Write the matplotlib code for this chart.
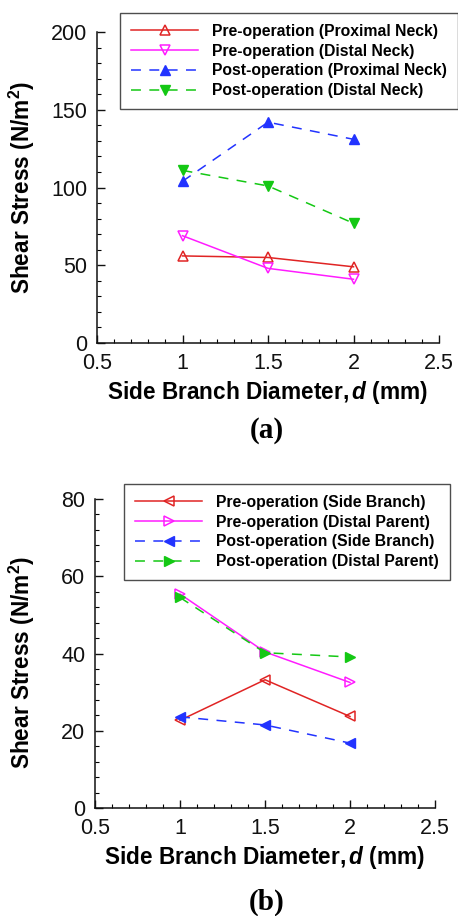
"""Wall shear stress vs side branch diameter, pre/post operation (two panels)."""

import matplotlib

matplotlib.use("Agg")

import matplotlib.pyplot as plt
from matplotlib.ticker import MultipleLocator

plt.rcParams["font.family"] = ["Liberation Sans", "DejaVu Sans"]
plt.rcParams["mathtext.fontset"] = "custom"
plt.rcParams["mathtext.it"] = "Liberation Sans:italic:bold"
plt.rcParams["mathtext.rm"] = "Liberation Sans:bold"
plt.rcParams["mathtext.bf"] = "Liberation Sans:bold"

diameter = [1.0, 1.5, 2.0]

# panel (a): aneurysm neck
pre_proximal_neck = [56, 55, 49]
pre_distal_neck = [69, 48, 41]
post_proximal_neck = [104, 142, 131]
post_distal_neck = [111, 101, 77]
labels_a = [
    "Pre-operation (Proximal Neck)",
    "Pre-operation (Distal Neck)",
    "Post-operation (Proximal Neck)",
    "Post-operation (Distal Neck)",
]

# panel (b): side branch / distal parent
pre_side_branch = [22.7, 33.2, 23.7]
pre_distal_parent = [55.4, 40.4, 32.5]
post_side_branch = [23.6, 21.5, 16.8]
post_distal_parent = [54.5, 40.2, 39.1]
labels_b = [
    "Pre-operation (Side Branch)",
    "Pre-operation (Distal Parent)",
    "Post-operation (Side Branch)",
    "Post-operation (Distal Parent)",
]

RED = "#e02424"
MAGENTA = "#ff1cff"
BLUE = "#2233ff"
GREEN = "#14c814"
DASH = (0, (6.5, 5.5))

W, H = 458, 916


def px_axes(fig, left, top, right, bottom):
    return fig.add_axes([left / W, 1 - bottom / H, (right - left) / W, (bottom - top) / H])


def style_axes(ax, ymax, ymajor, yminor, ylab_xy, xlab_xy):
    ax.set_xlim(0.5, 2.5)
    ax.set_ylim(0, ymax)
    ax.xaxis.set_major_locator(MultipleLocator(0.5))
    ax.xaxis.set_minor_locator(MultipleLocator(0.1))
    ax.yaxis.set_major_locator(MultipleLocator(ymajor))
    ax.yaxis.set_minor_locator(MultipleLocator(yminor))
    ax.xaxis.set_major_formatter(plt.FuncFormatter(lambda v, p: f"{v:g}"))
    for side in ("top", "right"):
        ax.spines[side].set_visible(False)
    for side in ("left", "bottom"):
        ax.spines[side].set_linewidth(1.1)
        ax.spines[side].set_color("#111111")
    ax.tick_params(which="major", direction="in", length=5.5, width=1, pad=7,
                   labelsize=15.5, colors="#111111")
    ax.tick_params(which="minor", direction="in", length=3, width=0.8)
    ax.set_ylabel(r"Shear Stress (N/m$^\mathbf{2}$)", fontsize=16.3, fontweight="bold", va="center")
    ax.set_xlabel(r"Side Branch Diameter,$\,d$ (mm)", fontsize=16.3, fontweight="bold", va="center")
    ax.yaxis.set_label_coords(*ylab_xy)
    ax.xaxis.set_label_coords(*xlab_xy)


def add_legend(ax, anchor):
    leg = ax.legend(loc="upper left", bbox_to_anchor=anchor, bbox_transform=ax.figure.transFigure,
                    prop={"weight": "bold", "size": 11.3}, frameon=True, fancybox=False,
                    edgecolor="#222222", handlelength=4.3, handletextpad=0.85,
                    labelspacing=0.3, borderpad=0.7, borderaxespad=0)
    leg.get_frame().set_linewidth(1.0)
    return leg


fig = plt.figure(figsize=(W / 100, H / 100), dpi=100)

ax_a = px_axes(fig, 97, 32, 439, 343)
ax_a.plot(diameter, pre_proximal_neck, color=RED, lw=1.1, marker="^", ms=7.5, mfc="none", mew=1.1, label=labels_a[0])
ax_a.plot(diameter, pre_distal_neck, color=MAGENTA, lw=1.1, marker="v", ms=7.5, mfc="none", mew=1.1, label=labels_a[1])
ax_a.plot(diameter, post_proximal_neck, color=BLUE, lw=1.1, ls=DASH, marker="^", ms=7.5, label=labels_a[2])
ax_a.plot(diameter, post_distal_neck, color=GREEN, lw=1.1, ls=DASH, marker="v", ms=7.5, label=labels_a[3])
style_axes(ax_a, 200, 50, 10, (-0.22, 0.5), (0.5, -0.16))
add_legend(ax_a, (120 / W, 1 - 13 / H))
fig.text(267 / W, 1 - 430 / H, "(a)", family="Liberation Serif", fontweight="bold",
         fontsize=21, ha="center", va="center")

ax_b = px_axes(fig, 95, 499, 435, 808)
ax_b.plot(diameter, pre_side_branch, color=RED, lw=1.1, marker="<", ms=7.5, mfc="none", mew=1.1, label=labels_b[0])
ax_b.plot(diameter, pre_distal_parent, color=MAGENTA, lw=1.1, marker=">", ms=7.5, mfc="none", mew=1.1, label=labels_b[1])
ax_b.plot(diameter, post_side_branch, color=BLUE, lw=1.1, ls=DASH, marker="<", ms=7.5, label=labels_b[2])
ax_b.plot(diameter, post_distal_parent, color=GREEN, lw=1.1, ls=DASH, marker=">", ms=7.5, label=labels_b[3])
style_axes(ax_b, 80, 20, 4, (-0.216, 0.47), (0.5, -0.159))
add_legend(ax_b, (124 / W, 1 - 484 / H))
fig.text(267 / W, 1 - 902 / H, "(b)", family="Liberation Serif", fontweight="bold",
         fontsize=21, ha="center", va="center")

fig.savefig("out.png", dpi=100)
plt.close(fig)
